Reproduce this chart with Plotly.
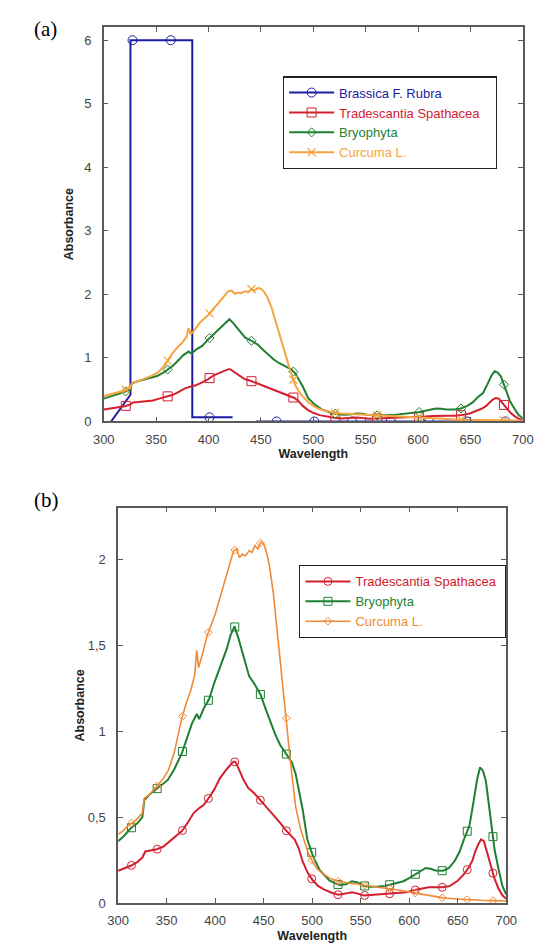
import numpy as np
import plotly.graph_objects as go

# ---------------- data ----------------
# Curcuma L.
wl_cur = [300, 305, 311, 318, 325, 327, 333, 340, 346, 352,
          358, 365, 370, 375, 379, 381, 383, 386, 392, 400,
          405, 410, 415, 419, 422, 425, 428, 431, 435, 438,
          441, 444, 447, 450, 453, 456, 460, 463, 468, 473,
          478, 483, 488, 492, 496, 500, 505, 510, 518, 527,
          540, 553, 567, 581, 595, 607, 620, 635, 648, 661,
          675, 688, 700]
abs_cur = [0.40, 0.42, 0.455, 0.48, 0.525, 0.61, 0.635, 0.68, 0.72, 0.775,
           0.88, 1.06, 1.16, 1.24, 1.33, 1.47, 1.37, 1.43, 1.56, 1.68,
           1.78, 1.88, 1.97, 2.05, 2.06, 2.01, 2.03, 2.02, 2.05, 2.04,
           2.08, 2.06, 2.10, 2.09, 2.04, 1.96, 1.80, 1.63, 1.36, 1.10,
           0.80, 0.56, 0.43, 0.36, 0.29, 0.245, 0.20, 0.175, 0.145, 0.125,
           0.115, 0.105, 0.095, 0.083, 0.07, 0.058, 0.045, 0.03, 0.024, 0.019,
           0.016, 0.014, 0.012]

# Bryophyta
wl_bry = [300, 306, 313, 320, 325, 327, 333, 340, 346, 351,
          358, 366, 371, 376, 381, 383.5, 388, 394, 399, 404,
          408, 412, 416, 420, 424, 430, 435, 441, 447, 452,
          457, 462, 467, 473, 479, 483, 486, 490, 495, 501,
          508, 518, 528, 535, 541, 547, 553, 560, 568, 575,
          581, 588, 594, 600, 607, 612, 617, 622, 627, 635,
          641, 647, 652, 657, 662, 666, 670, 673, 676, 679,
          683, 688, 692, 696, 700]
abs_bry = [0.36, 0.39, 0.435, 0.465, 0.50, 0.60, 0.635, 0.665, 0.69, 0.715,
           0.78, 0.877, 0.96, 1.044, 1.10, 1.07, 1.13, 1.19, 1.28, 1.36,
           1.42, 1.48, 1.56, 1.61, 1.54, 1.42, 1.32, 1.27, 1.21, 1.13,
           1.05, 0.98, 0.92, 0.87, 0.82, 0.75, 0.67, 0.55, 0.37, 0.27,
           0.19, 0.13, 0.105, 0.11, 0.127, 0.12, 0.10, 0.095, 0.096, 0.10,
           0.108, 0.118, 0.127, 0.145, 0.17, 0.19, 0.204, 0.20, 0.19, 0.188,
           0.205, 0.246, 0.30, 0.38, 0.448, 0.58, 0.72, 0.79, 0.77, 0.71,
           0.535, 0.31, 0.20, 0.10, 0.05]

# Tradescantia Spathacea
wl_tra = [300, 306, 313, 320, 325, 328, 333, 340, 347, 353,
          360, 366, 372, 378, 384, 388, 392, 399, 405, 412,
          419, 421, 424, 429, 434, 440, 447, 452, 457, 462,
          467, 473, 478, 482, 486, 490, 495, 500, 506, 512,
          520, 527, 534, 541, 547, 553, 560, 567, 574, 580,
          590, 597, 607, 614, 620, 628, 635, 642, 650, 656,
          661, 665, 668, 671, 674, 677, 680, 684, 688, 692,
          696, 700]
abs_tra = [0.188, 0.20, 0.217, 0.24, 0.265, 0.30, 0.305, 0.313, 0.33, 0.36,
           0.39, 0.42, 0.47, 0.525, 0.554, 0.57, 0.60, 0.66, 0.727, 0.78,
           0.823, 0.82, 0.785, 0.72, 0.67, 0.64, 0.596, 0.565, 0.535, 0.50,
           0.467, 0.423, 0.395, 0.37, 0.32, 0.245, 0.18, 0.137, 0.10, 0.08,
           0.06, 0.048, 0.055, 0.063, 0.055, 0.044, 0.047, 0.05, 0.052, 0.054,
           0.06, 0.063, 0.077, 0.086, 0.092, 0.092, 0.092, 0.10, 0.13, 0.165,
           0.204, 0.245, 0.30, 0.34, 0.37, 0.36, 0.30, 0.22, 0.14, 0.085,
           0.045, 0.025]

# Brassica F. Rubra (saturated region, with a gap)
wl_bra = [307, 325.5, 325.5, 384.5, 384.5, 423, 434, 445, 700]
abs_bra = [0, 0.42, 6, 6, 0.065, 0.065, float("nan"), 0, 0]

# marker positions (wavelengths)
mk_bra_a = [327.5, 364, 401, 465, 501, 537, 574, 610.5, 647, 683.5]
mk_a = [321, 361, 401, 441, 481, 521, 561, 601, 641, 682]
mk_b = [313.7, 340.2, 366.3, 393, 420.2, 446.6, 473.4, 499.5, 526.6, 554,
        579.8, 606.3, 634, 659.8, 686.3]

x_ticks = [300, 350, 400, 450, 500, 550, 600, 650, 700]
y_ticks_a = [0, 1, 2, 3, 4, 5, 6]
y_ticks_b = [0, 0.5, 1, 1.5, 2]

# ---------------- styling ----------------
BLUE = "#1c1ca2"
RED = "#d3202e"
GREEN = "#1f7f32"
ORANGE_A = "#f5a440"
ORANGE_B = "#f08a35"

W, H = 546, 946
FONT = "Liberation Sans, Arial, sans-serif"
PAD = "&nbsp;"

fig = go.Figure()


def add_series(xa, ya, wl, vals, mk, color, symbol, msize, name, legend, lw, mlw=1.0, pad=0):
    fig.add_trace(go.Scatter(x=wl, y=vals, mode="lines", xaxis=xa, yaxis=ya,
                             line=dict(color=color, width=lw), showlegend=False,
                             hoverinfo="skip"))
    my = np.interp(mk, wl, vals)
    mk_style = dict(symbol=symbol, size=msize, color=color,
                    line=dict(color=color, width=mlw))
    fig.add_trace(go.Scatter(x=mk, y=my, mode="markers", xaxis=xa, yaxis=ya,
                             marker=mk_style, showlegend=False, hoverinfo="skip"))
    fig.add_trace(go.Scatter(x=[None], y=[None], mode="lines+markers", xaxis=xa, yaxis=ya,
                             line=dict(color=color, width=lw), marker=mk_style,
                             name=f"<span style='color:{color}'>{name}</span>" + PAD * pad,
                             legend=legend))


# panel (a)
add_series("x", "y", wl_bra, abs_bra, mk_bra_a, BLUE, "circle-open", 9,
           "Brassica F. Rubra", "legend", 2)
add_series("x", "y", wl_tra, abs_tra, mk_a, RED, "square-open", 9,
           "Tradescantia Spathacea", "legend", 2, pad=3)
add_series("x", "y", wl_bry, abs_bry, mk_a, GREEN, "diamond-open", 7,
           "Bryophyta", "legend", 2)
add_series("x", "y", wl_cur, abs_cur, mk_a, ORANGE_A, "x-thin-open", 8,
           "Curcuma L.", "legend", 2, 1.2)

# panel (b)
add_series("x2", "y2", wl_tra, abs_tra, mk_b, RED, "circle-open", 8,
           "Tradescantia Spathacea", "legend2", 2, pad=1)
add_series("x2", "y2", wl_bry, abs_bry, mk_b, GREEN, "square-open", 8,
           "Bryophyta", "legend2", 2)
add_series("x2", "y2", wl_cur, abs_cur, mk_b, ORANGE_B, "diamond-open", 6,
           "Curcuma L.", "legend2", 1.6)

axis_common = dict(showline=True, mirror="ticks", linecolor="#5a5a5a", linewidth=1.5,
                   ticks="inside", ticklen=5, tickwidth=1.2, tickcolor="#5a5a5a",
                   showgrid=False, zeroline=False,
                   tickfont=dict(family=FONT, size=13, color="#444444"))

title_font = dict(family=FONT, size=12.5, color="#222222", weight="bold")
serif = dict(family="Liberation Serif, Times New Roman, serif", size=21, color="black")

fig.update_layout(
    width=W, height=H, autosize=False,
    margin=dict(l=0, r=0, t=0, b=0),
    paper_bgcolor="white", plot_bgcolor="white",
    separators=",.",
    xaxis=dict(domain=[88.3 / W, 525 / W], anchor="y", range=[300, 700],
               tickvals=x_ticks, ticklabelstandoff=5,
               title=dict(text="Wavelength", font=title_font, standoff=3),
               **axis_common),
    yaxis=dict(domain=[1 - 417 / H, 1 - 19 / H], anchor="x", range=[0, 6.21],
               tickvals=y_ticks_a, ticklabelstandoff=8,
               title=dict(text="Absorbance", font=title_font, standoff=8),
               **axis_common),
    xaxis2=dict(domain=[103.3 / W, 507.7 / W], anchor="y2", range=[300, 700],
                tickvals=x_ticks, ticklabelstandoff=5,
                title=dict(text="Wavelength", font=title_font, standoff=4),
                **axis_common),
    yaxis2=dict(domain=[1 - 902.7 / H, 1 - 504 / H], anchor="x2", range=[0, 2.3],
                tickvals=y_ticks_b, ticklabelstandoff=8,
                title=dict(text="Absorbance", font=title_font, standoff=0),
                **axis_common),
    legend=dict(x=275 / W, y=1 - 69 / H, xanchor="left", yanchor="top",
                bgcolor="white", bordercolor="#222222", borderwidth=1.2,
                font=dict(family=FONT, size=13), tracegroupgap=0, itemwidth=45),
    legend2=dict(x=292 / W, y=1 - 562 / H, xanchor="left", yanchor="top",
                 bgcolor="white", bordercolor="#222222", borderwidth=1.2,
                 font=dict(family=FONT, size=13), tracegroupgap=0, itemwidth=45),
    annotations=[
        dict(text="(a)", x=28 / W, y=1 - 21 / H, xref="paper", yref="paper",
             xanchor="center", yanchor="middle", showarrow=False, font=serif),
        dict(text="(b)", x=29 / W, y=1 - 496 / H, xref="paper", yref="paper",
             xanchor="center", yanchor="middle", showarrow=False, font=serif),
    ],
)

fig.write_html("out.html")
